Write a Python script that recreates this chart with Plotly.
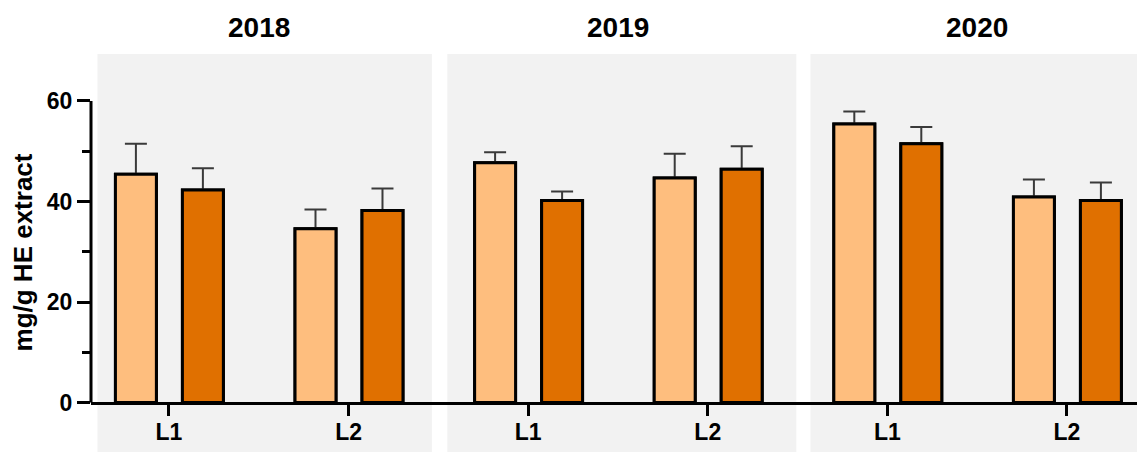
import plotly.graph_objects as go

# Data: mean content (mg/g HE extract) and upper SD for two lines per year
years = ["2018", "2019", "2020"]
lines = ["L1", "L2"]
tick_labels = ["L1", "L2", "L1", "L2", "L1", "L2"]

light_means = [45.4, 34.6, 47.7, 44.7, 55.4, 40.9]
light_errs = [6.1, 3.8, 2.1, 4.8, 2.5, 3.5]
dark_means = [42.3, 38.2, 40.2, 46.4, 51.5, 40.2]
dark_errs = [4.3, 4.4, 1.8, 4.6, 3.3, 3.6]

y_ticks = [0, 20, 40, 60]
y_minor_ticks = [10, 30, 50]

LIGHT = "#FEBE7E"
DARK = "#E07000"
PANEL = "#F2F2F2"
ERR = "#3A3A3A"
FONT = "Liberation Sans, Arial, sans-serif"

W, H = 1137, 452
M_L, M_R, M_T, M_B = 91, 0, 53, 0
Y_RANGE = [-9.85, 69.55]
X_RANGE = [-0.434, 5.39]

positions = list(range(len(tick_labels)))

BAR_W = 0.228
series = [(light_means, light_errs, LIGHT, -0.298), (dark_means, dark_errs, DARK, 0.075)]

fig = go.Figure()
# Bars carrying the upper error bars
for means, errs, color, off in series:
    fig.add_trace(go.Bar(
        x=positions, y=means, width=BAR_W, offset=off,
        marker=dict(color=color, line=dict(color="black", width=3)),
        error_y=dict(type="data", array=errs, arrayminus=[0] * len(errs),
                     symmetric=False, color=ERR, thickness=2, width=11),
        showlegend=False, hoverinfo="skip",
    ))
# Same bars again on top so the black outline stays clean where the whisker starts
for means, errs, color, off in series:
    fig.add_trace(go.Bar(
        x=positions, y=means, width=BAR_W, offset=off,
        marker=dict(color=color, line=dict(color="black", width=3)),
        showlegend=False,
    ))

# Grey background panel per year
panel_edges = [(-0.398, 1.464), (1.550, 3.493), (3.572, 5.39)]
for x0, x1 in panel_edges:
    fig.add_shape(type="rect", xref="x", yref="paper", x0=x0, x1=x1, y0=0, y1=0.9975,
                  fillcolor=PANEL, line=dict(width=0), layer="below")

# Y axis line only spans the tick range
fig.add_shape(type="line", xref="paper", yref="y", x0=0, x1=0, y0=0, y1=max(y_ticks),
              line=dict(color="black", width=3), layer="above")

# Year headings centred over each pair of groups
for i, yr in enumerate(years):
    fig.add_annotation(text=yr, x=2 * i + 0.5, xref="x", y=1.0627, yref="paper",
                       showarrow=False, yanchor="middle", xanchor="center",
                       font=dict(family=FONT, size=28, color="black", weight="bold"))

zero_pos = -Y_RANGE[0] / (Y_RANGE[1] - Y_RANGE[0])

fig.update_layout(
    width=W, height=H,
    margin=dict(l=M_L, r=M_R, t=M_T, b=M_B, pad=0),
    paper_bgcolor="white", plot_bgcolor="white",
    barmode="overlay",
    font=dict(family=FONT, color="black"),
    xaxis=dict(
        range=X_RANGE, tickmode="array", tickvals=positions, ticktext=tick_labels,
        ticks="outside", ticklen=11, tickwidth=3, tickcolor="black",
        showline=True, linewidth=3, linecolor="black",
        showgrid=False, zeroline=False,
        anchor="free", position=zero_pos, ticklabelstandoff=-3,
        tickfont=dict(family=FONT, size=23, color="black", weight="bold"),
    ),
    yaxis=dict(
        range=Y_RANGE, tickmode="array", tickvals=y_ticks,
        ticks="outside", ticklen=13, tickwidth=3, tickcolor="black",
        minor=dict(tickmode="array", tickvals=y_minor_ticks, ticks="outside",
                   ticklen=8, tickwidth=3, tickcolor="black", showgrid=False),
        showline=False, showgrid=False, zeroline=False,
        tickfont=dict(family=FONT, size=23, color="black", weight="bold"),
        title=dict(text="mg/g HE extract", standoff=6,
                   font=dict(family=FONT, size=26, color="black", weight="bold")),
    ),
)

fig.write_html("out.html")
